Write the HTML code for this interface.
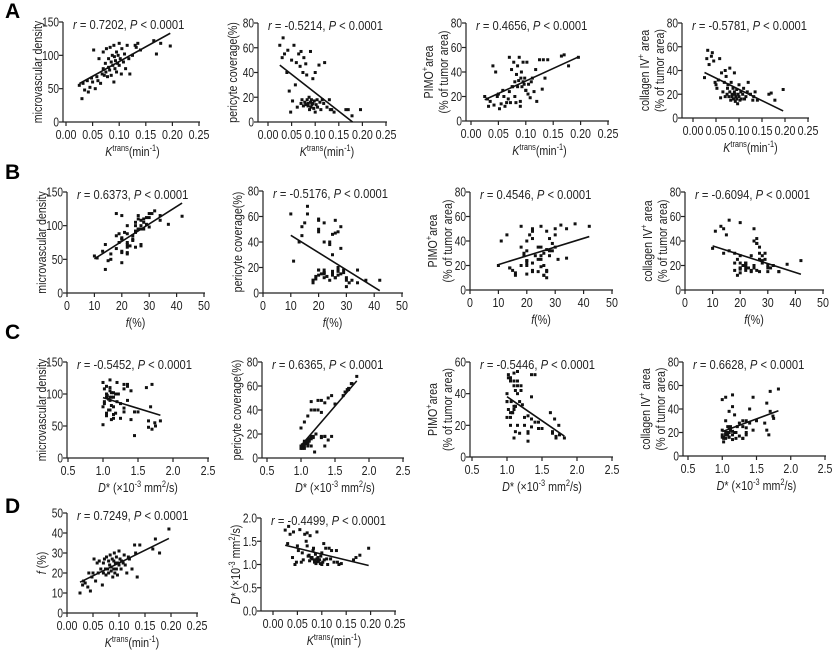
<!DOCTYPE html>
<html><head><meta charset="utf-8">
<style>
html,body{margin:0;padding:0;background:#fff;}
svg{display:block;font-family:"Liberation Sans",Arial,sans-serif;}
</style></head>
<body>
<svg id="fig" width="835" height="651" viewBox="0 0 835 651" xmlns="http://www.w3.org/2000/svg">
<text x="5" y="18" font-size="21" font-weight="bold">A</text>
<text x="5" y="179" font-size="21" font-weight="bold">B</text>
<text x="5" y="339" font-size="21" font-weight="bold">C</text>
<text x="5" y="513" font-size="21" font-weight="bold">D</text>
</svg>
<script>
// shared per-tumor measurements
const ktrans = [0.025,0.03,0.032,0.035,0.04,0.042,0.045,0.048,0.05,0.052,0.055,0.058,0.06,0.062,0.065,0.068,0.07,0.07,0.072,0.074,0.075,0.076,0.078,0.08,0.08,0.082,0.083,0.085,0.085,0.087,0.088,0.09,0.09,0.091,0.092,0.093,0.095,0.095,0.097,0.098,0.1,0.1,0.102,0.104,0.105,0.108,0.11,0.112,0.115,0.118,0.12,0.125,0.13,0.132,0.135,0.14,0.165,0.17,0.178,0.196];
const mvd = [55,35,58,48,62,45,52,66,60,108,50,68,62,95,58,72,105,80,70,88,75,110,68,95,82,78,112,90,70,100,85,115,60,98,80,92,105,75,88,100,118,85,95,72,110,90,102,80,115,95,72,100,115,112,118,108,122,102,118,114];
const pericyte = [62,52,68,55,40,58,25,8,50,17,62,30,48,12,55,45,15,57,18,40,13,52,16,47,14,38,18,15,13,20,10,57,16,12,18,14,35,15,11,17,8,40,14,18,12,46,16,10,18,15,48,12,18,10,10,8,10,10,5,10];
const pimo = [20,18,12,16,45,13,40,20,22,10,14,25,20,12,15,18,52,24,15,42,28,28,48,20,32,15,38,45,28,33,52,12,16,35,40,28,32,48,30,35,25,25,48,22,30,19,32,35,24,42,16,50,26,50,35,50,53,54,45,52];
const collagen = [34,50,57,45,52,55,48,30,28,25,32,50,17,38,22,30,40,18,35,20,25,28,18,42,22,15,30,20,18,25,16,38,22,20,14,18,24,16,12,20,18,28,15,22,16,20,25,16,18,22,30,20,15,18,22,15,20,21,15,24];
const fperc = [10,14,16,15,13,20,11,18,20,27,16,25,20,26,22,14,25,20,27,22,19,28,22,26,20,24,29,21,23,27,18,26,22,30,20,25,28,22,19,25,31,24,27,22,26,25,29,24,20,28,27,22,34,30,18,34,32,37,30,42];
const dstar = [1.74,1.45,1.82,1.65,1.15,1.7,1.0,1.05,1.4,1.3,1.75,1.05,1.25,1.1,1.65,1.5,1.4,1.68,1.18,1.2,1.08,1.62,1.15,1.15,1.12,1.3,1.35,1.1,1.05,1.22,1.02,1.7,1.12,1.06,1.15,1.08,1.1,1.1,1.02,1.18,1.0,1.25,1.05,1.45,1.1,1.35,1.12,1.0,1.35,1.12,1.3,1.05,1.3,1.05,1.0,1.02,1.1,1.15,1.2,1.35];
// axis ticks
const kTicks = [0,0.05,0.1,0.15,0.2,0.25];
const kTickLabels = ["0.00","0.05","0.10","0.15","0.20","0.25"];
const fTicks = [0,10,20,30,40,50];
const dTicks = [0.5,1.0,1.5,2.0,2.5];
const dTickLabels = ["0.5","1.0","1.5","2.0","2.5"];
const mvdTicks = [0,50,100,150];
const pct80Ticks = [0,20,40,60,80];
const pct60Ticks = [0,20,40,60];
const fYTicks = [0,10,20,30,40,50];
const dYTicks = [0,0.5,1.0,1.5,2.0];
const dYTickLabels = ["0.0","0.5","1.0","1.5","2.0"];
const statR = ["0.7202","-0.5214","0.4656","-0.5781","0.6373","-0.5176","0.4546","-0.6094","-0.5452","0.6365","-0.5446","0.6628","0.7249","-0.4499"];

const NS="http://www.w3.org/2000/svg";
const svg=document.getElementById('fig');
function mk(tag,attrs,parent){const e=document.createElementNS(NS,tag);for(const k in attrs)e.setAttribute(k,attrs[k]);(parent||svg).appendChild(e);return e;}
function squeeze(t,f){const len=t.getComputedTextLength();if(len>0){t.setAttribute('textLength',(len*f).toFixed(1));t.setAttribute('lengthAdjust','spacingAndGlyphs');}}
const FS=13, SQ=0.82;

const KT={type:'k',ticks:kTicks,labels:kTickLabels};
const FT={type:'f',ticks:fTicks,labels:fTicks.map(String)};
const DT={type:'d',ticks:dTicks,labels:dTickLabels};
const Y_MVD={ticks:mvdTicks,labels:mvdTicks.map(String),title:['microvascular density']};
const Y_PER={ticks:pct80Ticks,labels:pct80Ticks.map(String),title:['pericyte coverage(%)']};
const Y_PIMO={ticks:pct80Ticks,labels:pct80Ticks.map(String),title:['PIMO+area','(% of tumor area)']};
const Y_PIMO60={ticks:pct60Ticks,labels:pct60Ticks.map(String),title:['PIMO+area','(% of tumor area)']};
const Y_COL={ticks:pct80Ticks,labels:pct80Ticks.map(String),title:['collagen IV+ area','(% of tumor area)']};
const Y_F={ticks:fYTicks,labels:fYTicks.map(String),title:['f (%)']};
const Y_D={ticks:dYTicks,labels:dYTickLabels,title:['D* (×10-3 mm2/s)']};

const panels=[
 {n:'a1',xa:63,x0:66,x1:199,yT:22,yB:122,X:KT,Y:Y_MVD,xd:ktrans,yd:mvd},
 {n:'a2',xa:258,x0:268,x1:386,yT:23,yB:122,X:KT,Y:Y_PER,xd:ktrans,yd:pericyte},
 {n:'a3',xa:466,x0:471,x1:608,yT:23,yB:121,X:KT,Y:Y_PIMO,xd:ktrans,yd:pimo},
 {n:'a4',xa:682,x0:693,x1:808,yT:23,yB:118,X:KT,Y:Y_COL,xd:ktrans,yd:collagen},
 {n:'b1',xa:67,x0:67,x1:204,yT:192,yB:293,X:FT,Y:Y_MVD,xd:fperc,yd:mvd},
 {n:'b2',xa:263,x0:263,x1:402,yT:191,yB:293,X:FT,Y:Y_PER,xd:fperc,yd:pericyte},
 {n:'b3',xa:470,x0:470,x1:612,yT:192,yB:290,X:FT,Y:Y_PIMO,xd:fperc,yd:pimo},
 {n:'b4',xa:685,x0:685,x1:823,yT:192,yB:290,X:FT,Y:Y_COL,xd:fperc,yd:collagen},
 {n:'c1',xa:67,x0:68,x1:208,yT:362,yB:458,X:DT,Y:Y_MVD,xd:dstar,yd:mvd},
 {n:'c2',xa:262,x0:267,x1:403,yT:362,yB:458,X:DT,Y:Y_PER,xd:dstar,yd:pericyte},
 {n:'c3',xa:470,x0:472,x1:612,yT:362,yB:457,X:DT,Y:Y_PIMO60,xd:dstar,yd:pimo},
 {n:'c4',xa:683,x0:688,x1:825,yT:362,yB:456,X:DT,Y:Y_COL,xd:dstar,yd:collagen},
 {n:'d1',xa:67,x0:67,x1:197,yT:513,yB:613,X:KT,Y:Y_F,xd:ktrans,yd:fperc},
 {n:'d2',xa:261,x0:273,x1:395,yT:518,yB:611,X:KT,Y:Y_D,xd:ktrans,yd:dstar}
];

function addTitleText(g,str,attrs){
  const t=mk('text',attrs,g);
  function sp(txt,o){const s=mk('tspan',o||{},t);s.textContent=txt;return s;}
  if(str==='PIMO+area'){sp('PIMO');sp('+',{dy:'-5','font-size':'9'});sp('area',{dy:'5'});}
  else if(str==='collagen IV+ area'){sp('collagen IV');sp('+',{dy:'-5','font-size':'9'});sp(' area',{dy:'5'});}
  else if(str==='f (%)'){sp('f',{'font-style':'italic'});sp(' (%)');}
  else if(str==='D* (×10-3 mm2/s)'){sp('D',{'font-style':'italic'});sp('* (×10');sp('-3',{dy:'-5','font-size':'9'});sp(' mm',{dy:'5'});sp('2',{dy:'-5','font-size':'9'});sp('/s)',{dy:'5'});}
  else t.textContent=str;
  return t;
}

panels.forEach((p,i)=>{
  const g=mk('g',{});
  
  
  const xt=p.X.ticks, yt=p.Y.ticks;
  const xmin=xt[0], xmax=xt[xt.length-1], ymin=yt[0], ymax=yt[yt.length-1];
  const sx=v=>p.x0+(v-xmin)/(xmax-xmin)*(p.x1-p.x0);
  const sy=v=>p.yB-(v-ymin)/(ymax-ymin)*(p.yB-p.yT);
  const ya=mk('line',{x1:p.xa,y1:p.yT,x2:p.xa,y2:p.yB,stroke:'#222','stroke-width':1.2},g);
  
  
  const xaL=mk('line',{x1:p.xa,y1:p.yB,x2:p.x1+1,y2:p.yB,stroke:'#222','stroke-width':1.2},g);
  
  
  yt.forEach((v,j)=>{
    const y=sy(v);
    mk('line',{x1:p.xa-4,y1:y,x2:p.xa,y2:y,stroke:'#222','stroke-width':1.2},g);
    const tl=mk('text',{x:p.xa-4,y:y+4.5,'font-size':FS,'text-anchor':'end',fill:'#222'},g);
    tl.textContent=p.Y.labels[j];
    
    
    squeeze(tl,0.78);
  });
  xt.forEach((v,j)=>{
    const x=sx(v);
    mk('line',{x1:x,y1:p.yB,x2:x,y2:p.yB+4,stroke:'#222','stroke-width':1.2},g);
    const tl=mk('text',{x:x,y:p.yB+17,'font-size':FS,'text-anchor':'middle',fill:'#222'},g);
    tl.textContent=p.X.labels[j];
    
    
    squeeze(tl,SQ);
  });
  const xc=(p.x0+p.x1)/2;
  const xtt=mk('text',{x:xc,y:p.yB+34,'font-size':FS,'text-anchor':'middle',fill:'#222'},g);
  
  
  function sp(t,txt,o){const s=mk('tspan',o||{},t);s.textContent=txt;}
  if(p.X.type==='k'){sp(xtt,'K',{'font-style':'italic'});sp(xtt,'trans',{dy:'-5','font-size':'9'});sp(xtt,'(min',{dy:'5'});sp(xtt,'-1',{dy:'-5','font-size':'9'});sp(xtt,')',{dy:'5'});}
  else if(p.X.type==='f'){sp(xtt,'f',{'font-style':'italic'});sp(xtt,'(%)');}
  else {sp(xtt,'D',{'font-style':'italic'});sp(xtt,'* (×10');sp(xtt,'-3',{dy:'-5','font-size':'9'});sp(xtt,' mm',{dy:'5'});sp(xtt,'2',{dy:'-5','font-size':'9'});sp(xtt,'/s)',{dy:'5'});}
  squeeze(xtt,SQ);
  const yc=(p.yT+p.yB)/2;
  const lines=p.Y.title;
  lines.forEach((ln,j)=>{
    const xx = lines.length===1 ? p.xa-21 : p.xa-33+j*15;
    const t=addTitleText(g,ln,{x:xx,y:yc,'font-size':FS,'text-anchor':'middle',fill:'#222',transform:`rotate(-90 ${xx} ${yc})`});
    
    
    squeeze(t,SQ);
  });
  const st=mk('text',{x:p.xa+10,y:p.yT+7,'font-size':FS,fill:'#222'},g);
  
  
  sp(st,'r',{'font-style':'italic'});sp(st,' = '+statR[i]+', ');sp(st,'P',{'font-style':'italic'});sp(st,' < 0.0001');
  squeeze(st,0.86);
  p.xd.forEach((xv,j)=>{
    const d=mk('rect',{x:sx(xv)-1.5,y:sy(p.yd[j])-1.5,width:3,height:3,fill:'#111'},g);
    
    
  });
  const n=p.xd.length;let mx=0,my=0;p.xd.forEach((v,j)=>{mx+=v;my+=p.yd[j];});mx/=n;my/=n;
  let sxy=0,sxx=0;p.xd.forEach((v,j)=>{sxy+=(v-mx)*(p.yd[j]-my);sxx+=(v-mx)*(v-mx);});
  const b=sxy/sxx,a=my-b*mx;
  let lo=Math.min(...p.xd),hi=Math.max(...p.xd);
  const yAt=x=>a+b*x;
  if(yAt(hi)<ymin){hi=(ymin-a)/b;}
  if(yAt(lo)<ymin){lo=(ymin-a)/b;}
  const rl=mk('line',{x1:sx(lo),y1:sy(yAt(lo)),x2:sx(hi),y2:sy(yAt(hi)),stroke:'#111','stroke-width':1.6},g);
  
  
});
</script>
</body></html>
